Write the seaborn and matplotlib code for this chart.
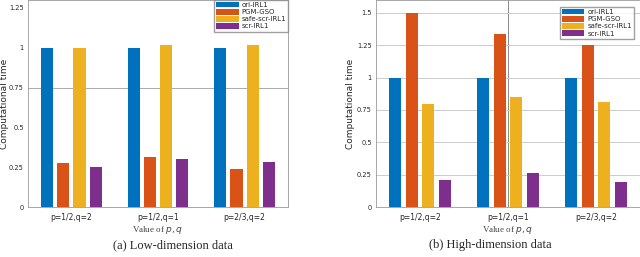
import matplotlib
matplotlib.use("Agg")
import matplotlib.pyplot as plt
import pandas as pd
import seaborn as sns

settings = ["p=1/2,q=2", "p=1/2,q=1", "p=2/3,q=2"]
methods = ["ori-IRL1", "PGM-GSO", "safe-scr-IRL1", "scr-IRL1"]
colors = ["#0072BD", "#D95319", "#EDB120", "#7E2F8E"]

low_ori = [1.0, 1.0, 1.0]
low_pgm = [0.275, 0.315, 0.24]
low_safe = [1.0, 1.015, 1.015]
low_scr = [0.25, 0.30, 0.285]

high_ori = [1.0, 1.0, 1.0]
high_pgm = [1.5, 1.335, 1.255]
high_safe = [0.80, 0.85, 0.815]
high_scr = [0.21, 0.265, 0.195]


def to_long(series):
    rows = []
    for m, vals in zip(methods, series):
        for s, v in zip(settings, vals):
            rows.append({"setting": s, "method": m, "time": v})
    return pd.DataFrame(rows)


low_df = to_long([low_ori, low_pgm, low_safe, low_scr])
high_df = to_long([high_ori, high_pgm, high_safe, high_scr])

sns.set_style("white")
plt.rcParams["font.family"] = ["DejaVu Sans"]

fig = plt.figure(figsize=(6.4, 2.57), dpi=100)
ax1 = fig.add_axes([28 / 640, 1 - 207 / 257, 260 / 640, 207 / 257])
ax2 = fig.add_axes([376 / 640, 1 - 207 / 257, 264 / 640, 207 / 257])

panels = [
    (ax1, low_df, 1.30, [0, 0.25, 0.5, 0.75, 1, 1.25], "(a) Low-dimension data",
     173 / 640, (1.0, 1.0)),
    (ax2, high_df, 1.60, [0, 0.25, 0.5, 0.75, 1, 1.25, 1.5], "(b) High-dimension data",
     490 / 640, (0.977, 0.966)),
]

for ax, df, top, ticks, caption, cx, anchor in panels:
    sns.barplot(data=df, x="setting", y="time", hue="method", hue_order=methods,
                palette=colors, width=0.75, gap=0.25, ax=ax, saturation=1,
                edgecolor="none", legend=True)
    ax.set_ylim(0, top)
    ax.set_xlim(-0.5, 2.5)
    ax.set_yticks(ticks)
    ax.set_yticklabels([f"{t:g}" for t in ticks], fontsize=4.8)
    ax.tick_params(axis="x", labelsize=5.5, length=2, pad=2)
    ax.tick_params(axis="y", length=2, pad=1)
    ax.set_ylabel("Computational time", fontsize=6.5)
    ax.set_xlabel("Value of $p, q$", fontsize=6.5, family="Liberation Serif", labelpad=2,
                  color="#444444")
    for sp in ax.spines.values():
        sp.set_color("#999999")
        sp.set_linewidth(0.6)
    ax.legend(loc="upper right", bbox_to_anchor=anchor, fontsize=5, frameon=True,
              fancybox=False, edgecolor="#888888", borderpad=0.3, handlelength=3.2,
              handleheight=0.8, handletextpad=0.4, labelspacing=0.15, borderaxespad=0.0)
    fig.text(cx, 0.035, caption, ha="center", fontsize=9, family="Liberation Serif")

ax1.yaxis.set_label_coords(-0.072, 0.5)
ax2.yaxis.set_label_coords(-0.078, 0.5)
ax1.axhline(0.75, color="#aaaaaa", lw=0.7, zorder=0)
ax2.yaxis.grid(True, color="#cccccc", lw=0.7)
ax2.set_axisbelow(True)
ax2.axvline(1, color="#777777", lw=0.6, zorder=0)

fig.savefig("out.png", dpi=100)
